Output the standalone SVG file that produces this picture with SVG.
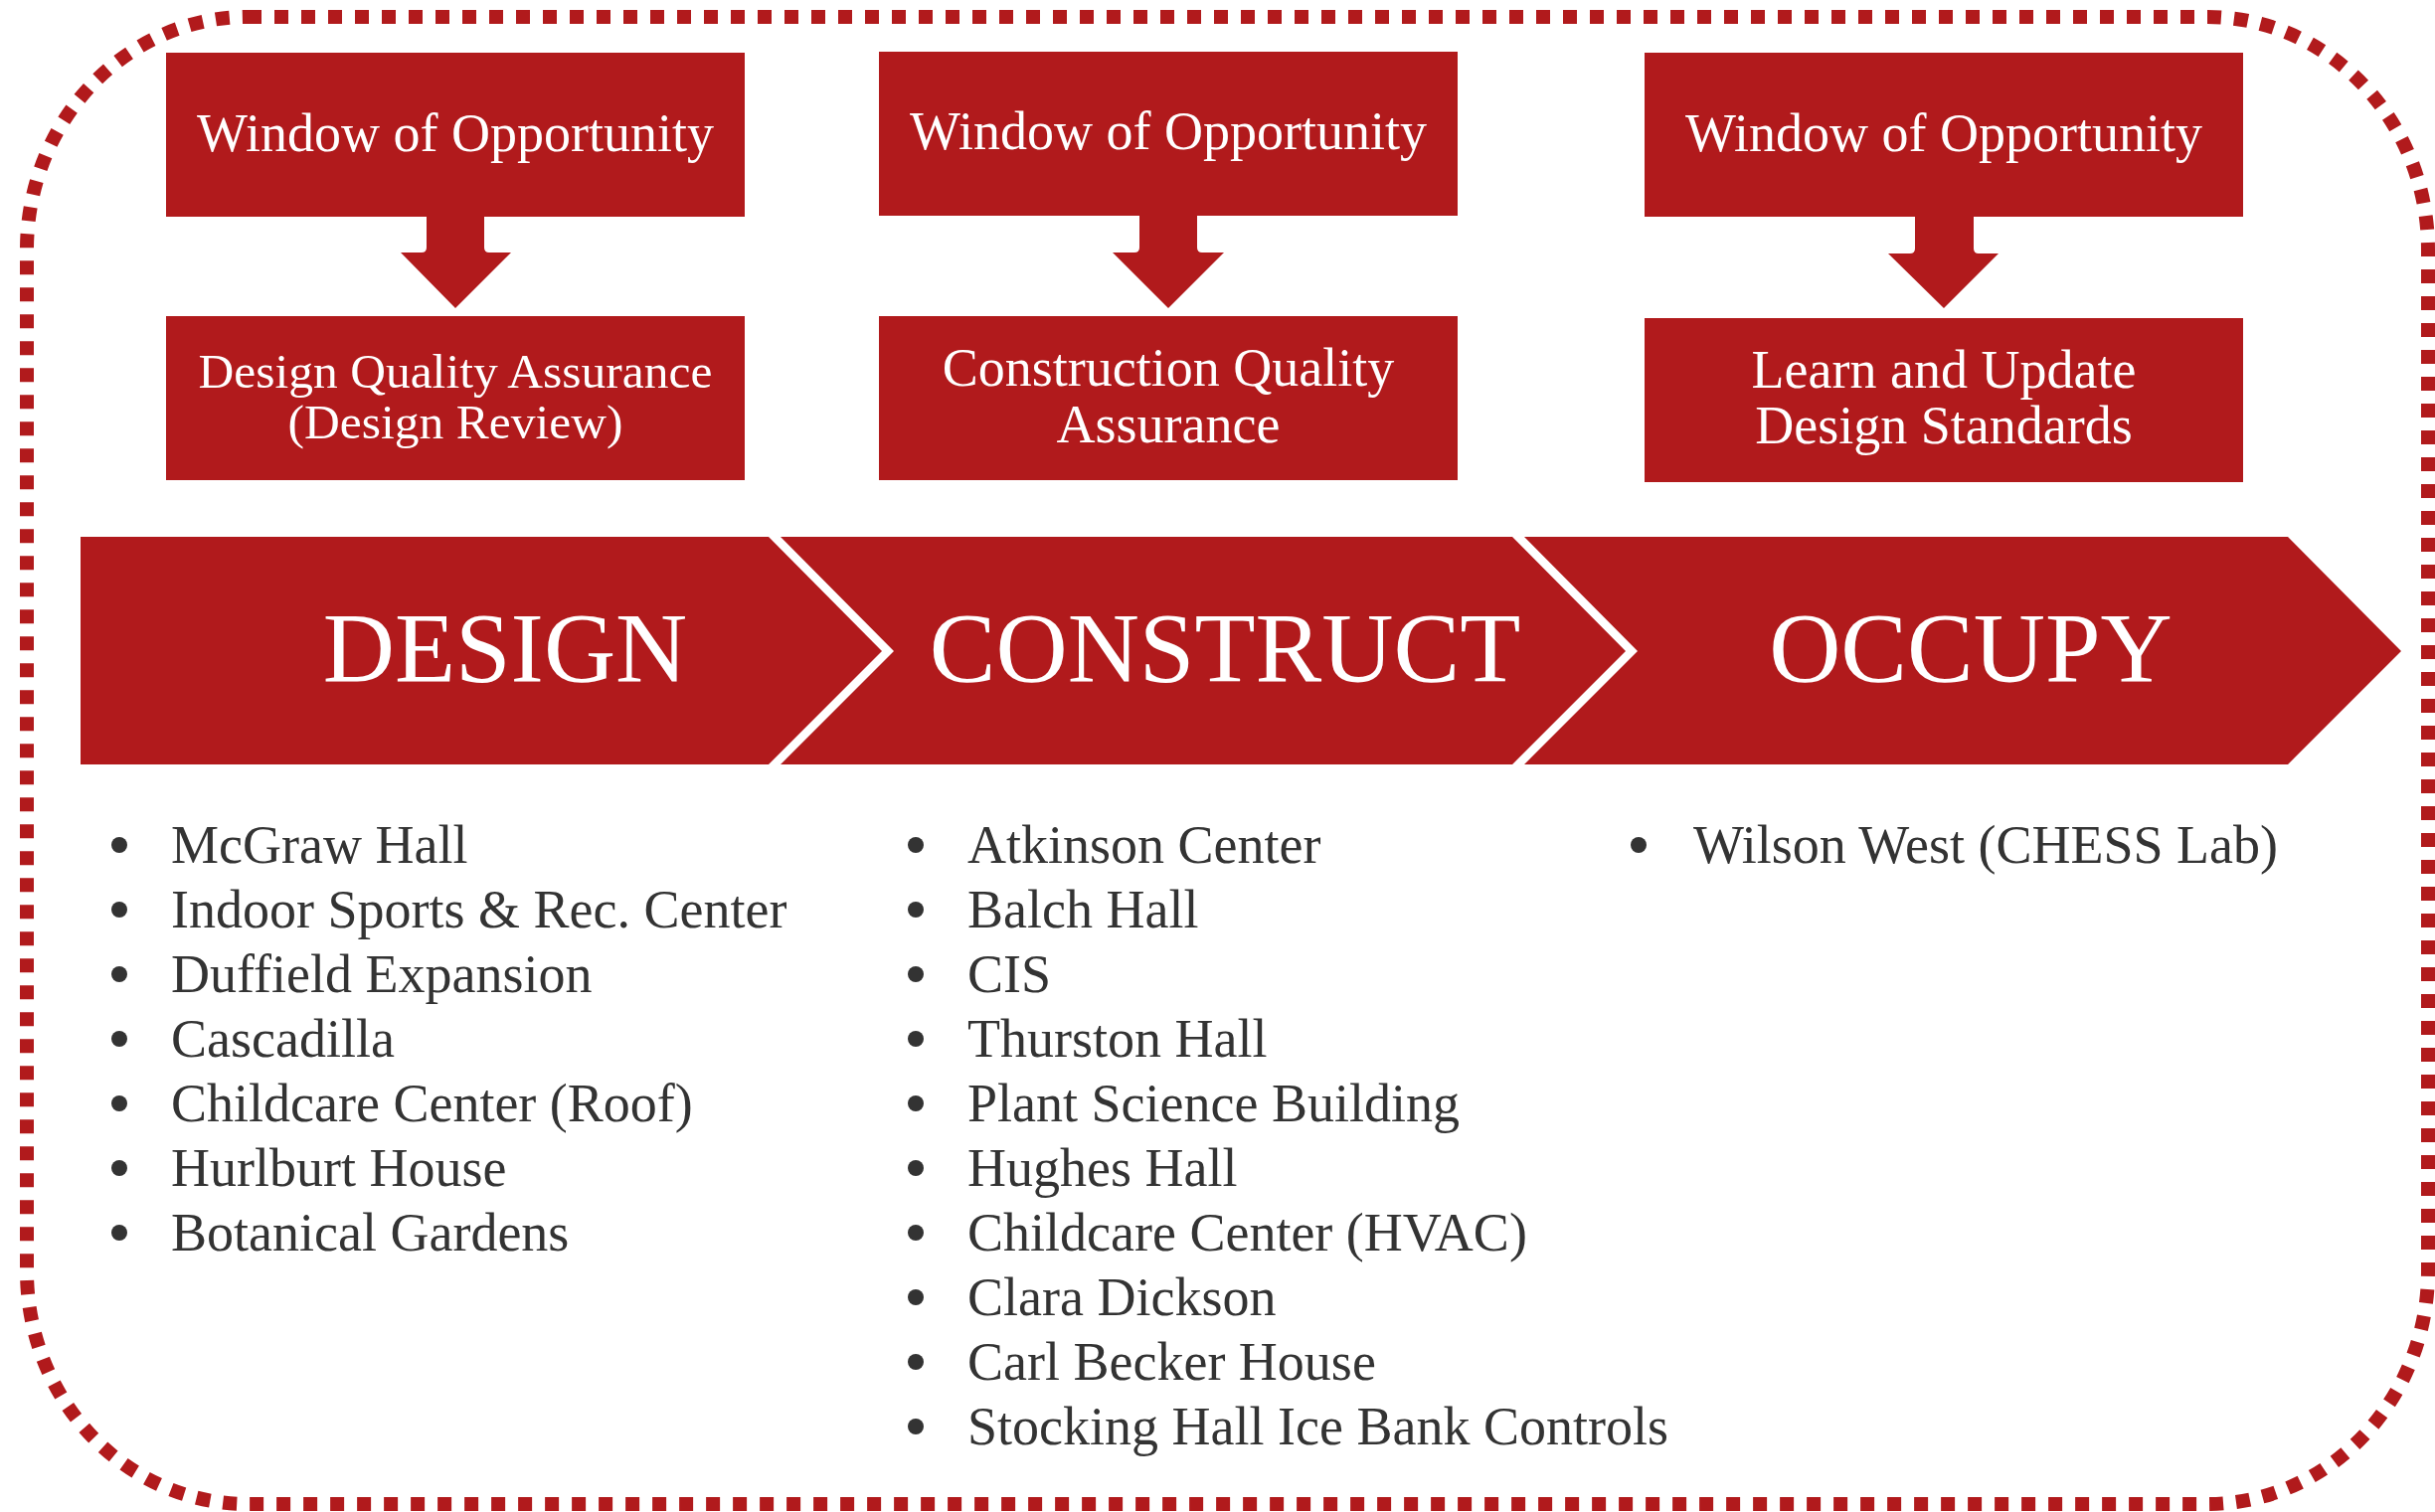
<svg xmlns="http://www.w3.org/2000/svg" width="2449" height="1521" viewBox="0 0 2449 1521">
<style>
.red{fill:#B11A1C}
.box-t{font-family:"Liberation Serif","Times New Roman",serif;fill:#FFFFFF;text-anchor:middle}
.big{font-family:"Liberation Serif","Times New Roman",serif;fill:#FFFFFF;text-anchor:middle;font-size:100px}
.li{font-family:"Liberation Serif","Times New Roman",serif;fill:#333333;font-size:54px}
.bul{fill:#333333}
</style>
<rect width="2449" height="1521" fill="#FFFFFF"/>
<g id="frame">
<rect x="27" y="17" width="2415" height="1496" rx="222" ry="234" fill="none" stroke="#B11A1C" stroke-width="14" stroke-dasharray="14 13"/>
</g>

<g id="wo1"><rect class="red" x="167" y="53" width="582" height="165"/><text class="box-t" x="458" y="152" font-size="54">Window of Opportunity</text></g>
<g id="dqa"><rect class="red" x="167" y="318" width="582" height="165"/><text class="box-t" x="458" y="390" font-size="49.5">Design Quality Assurance</text><text class="box-t" x="458" y="441" font-size="49.5">(Design Review)</text></g>

<g id="wo2"><rect class="red" x="884" y="52" width="582" height="165"/><text class="box-t" x="1175" y="150" font-size="54">Window of Opportunity</text></g>
<g id="cqa"><rect class="red" x="884" y="318" width="582" height="165"/><text class="box-t" x="1175" y="388" font-size="54">Construction Quality</text><text class="box-t" x="1175" y="445" font-size="54">Assurance</text></g>

<g id="wo3"><rect class="red" x="1654" y="53" width="602" height="165"/><text class="box-t" x="1955" y="152" font-size="54">Window of Opportunity</text></g>
<g id="lud"><rect class="red" x="1654" y="320" width="602" height="165"/><text class="box-t" x="1955" y="390" font-size="54">Learn and Update</text><text class="box-t" x="1955" y="446" font-size="54">Design Standards</text></g>

<g id="connectors">
<path class="red" d="M429 215 L487 215 L487 249 Q487 254 492 254 L514 254 L458 310 L403 254 L424 254 Q429 254 429 249 Z"/>
<path class="red" d="M1146 214 L1204 214 L1204 249 Q1204 254 1209 254 L1231 254 L1175 310 L1119 254 L1141 254 Q1146 254 1146 249 Z"/>
<path class="red" d="M1926 215 L1985 215 L1985 250 Q1985 255 1990 255 L2010 255 L1955 310 L1899 255 L1921 255 Q1926 255 1926 250 Z"/>
</g>

<g id="design"><polygon class="red" points="81,540 773,540 887,655 773,769 81,769"/><text class="big" x="508" y="685">DESIGN</text></g>
<g id="construct"><polygon class="red" points="785,540 1521,540 1635,655 1521,769 785,769 899,655"/><text class="big" x="1232" y="685">CONSTRUCT</text></g>
<g id="occupy"><polygon class="red" points="1533,540 2301,540 2415,655 2301,769 1533,769 1647,655"/><text class="big" x="1982" y="685">OCCUPY</text></g>

<g id="design-list">
<circle class="bul" cx="120" cy="850" r="8"/><text class="li" x="172" y="868">McGraw Hall</text>
<circle class="bul" cx="120" cy="915" r="8"/><text class="li" x="172" y="933">Indoor Sports &amp; Rec. Center</text>
<circle class="bul" cx="120" cy="980" r="8"/><text class="li" x="172" y="998">Duffield Expansion</text>
<circle class="bul" cx="120" cy="1045" r="8"/><text class="li" x="172" y="1063">Cascadilla</text>
<circle class="bul" cx="120" cy="1110" r="8"/><text class="li" x="172" y="1128">Childcare Center (Roof)</text>
<circle class="bul" cx="120" cy="1175" r="8"/><text class="li" x="172" y="1193">Hurlburt House</text>
<circle class="bul" cx="120" cy="1240" r="8"/><text class="li" x="172" y="1258">Botanical Gardens</text>
</g>

<g id="construct-list">
<circle class="bul" cx="921" cy="850" r="8"/><text class="li" x="973" y="868">Atkinson Center</text>
<circle class="bul" cx="921" cy="915" r="8"/><text class="li" x="973" y="933">Balch Hall</text>
<circle class="bul" cx="921" cy="980" r="8"/><text class="li" x="973" y="998">CIS</text>
<circle class="bul" cx="921" cy="1045" r="8"/><text class="li" x="973" y="1063">Thurston Hall</text>
<circle class="bul" cx="921" cy="1110" r="8"/><text class="li" x="973" y="1128">Plant Science Building</text>
<circle class="bul" cx="921" cy="1175" r="8"/><text class="li" x="973" y="1193">Hughes Hall</text>
<circle class="bul" cx="921" cy="1240" r="8"/><text class="li" x="973" y="1258">Childcare Center (HVAC)</text>
<circle class="bul" cx="921" cy="1305" r="8"/><text class="li" x="973" y="1323">Clara Dickson</text>
<circle class="bul" cx="921" cy="1370" r="8"/><text class="li" x="973" y="1388">Carl Becker House</text>
<circle class="bul" cx="921" cy="1435" r="8"/><text class="li" x="973" y="1453">Stocking Hall Ice Bank Controls</text>
</g>

<g id="occupy-list">
<circle class="bul" cx="1648" cy="850" r="8"/><text class="li" x="1703" y="868">Wilson West (CHESS Lab)</text>
</g>
</svg>
